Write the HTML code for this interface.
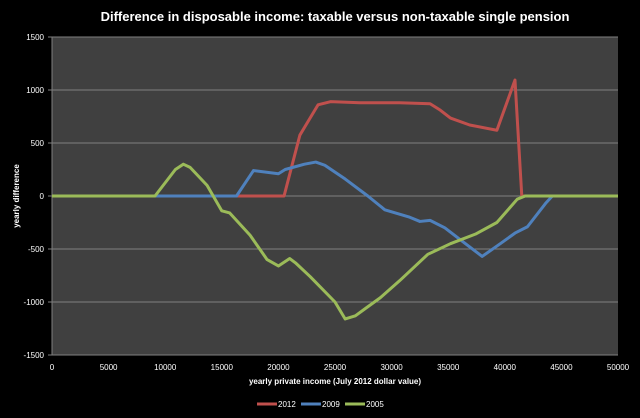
<!DOCTYPE html>
<html><head><meta charset="utf-8"><style>
html,body{margin:0;padding:0;background:#000;}
svg{display:block;font-family:"Liberation Sans",sans-serif;}
</style></head><body>
<svg id="chart" width="640" height="418" xmlns="http://www.w3.org/2000/svg">
<rect width="640" height="418" fill="#000"/>
<text x="335" y="21" fill="#fff" font-size="13" font-weight="bold" text-anchor="middle">Difference in disposable income: taxable versus non-taxable single pension</text>
<rect x="52" y="37" width="566" height="318" fill="#404040"/>
<g id="grid"></g><g id="ticks"></g><g id="series"></g>
<text x="335" y="384" fill="#fff" font-size="8" font-weight="bold" text-anchor="middle">yearly private income (July 2012 dollar value)</text>
<text transform="translate(19,196) rotate(-90)" fill="#fff" font-size="8" font-weight="bold" text-anchor="middle">yearly difference</text>
<g>
<line x1="257" y1="404" x2="277" y2="404" stroke="#c0504d" stroke-width="3"/><text x="278" y="407" fill="#fff" font-size="8">2012</text>
<line x1="301" y1="404" x2="321" y2="404" stroke="#4f81bd" stroke-width="3"/><text x="322" y="407" fill="#fff" font-size="8">2009</text>
<line x1="345" y1="404" x2="365" y2="404" stroke="#9bbb59" stroke-width="3"/><text x="366" y="407" fill="#fff" font-size="8">2005</text>
</g>
</svg>
<script>
const xTicks=[0,5000,10000,15000,20000,25000,30000,35000,40000,45000,50000];
const yTicks=[1500,1000,500,0,-500,-1000,-1500];
const x2012=[0,20500,21900,23500,24600,27200,30700,33400,34300,35200,36900,39300,40900,41500,50000];
const y2012=[0,0,575,860,890,880,880,870,810,735,670,620,1094,0,0];
const x2009=[0,16300,17800,20000,20600,22300,23300,24100,25900,27900,29400,31600,32500,33400,34700,36900,38000,39600,40900,42000,43600,44200,50000];
const y2009=[0,0,240,210,250,300,320,290,160,0,-130,-200,-240,-230,-300,-480,-570,-450,-350,-290,-70,0,0];
const x2005=[0,9100,10900,11600,12200,13700,15000,15700,17500,19000,20000,21000,21500,22800,25000,25900,26800,27700,29000,30700,33200,35200,37400,39300,40200,41100,41800,50000];
const y2005=[0,0,250,300,270,100,-140,-160,-370,-600,-660,-590,-630,-760,-1000,-1160,-1130,-1060,-960,-800,-550,-450,-360,-250,-140,-30,0,0];
const X=v=>52+v/50000*566, Y=v=>196-v/1000*106;
const NS="http://www.w3.org/2000/svg";
function mk(t,a,p){const e=document.createElementNS(NS,t);for(const k in a)e.setAttribute(k,a[k]);p.appendChild(e);return e;}
const grid=document.getElementById('grid'),ticks=document.getElementById('ticks'),ser=document.getElementById('series');
yTicks.forEach(v=>{
 const l=mk('line',{x1:48,x2:618,y1:Y(v),y2:Y(v),stroke:'#7f7f7f','stroke-width':1},grid);
 
 
 const t=mk('text',{x:44,y:Y(v)+3,fill:'#fff','font-size':8,'text-anchor':'end'},ticks);t.textContent=v;
 
 
});
mk('line',{x1:52,x2:52,y1:37,y2:355,stroke:'#7f7f7f'},grid);
xTicks.forEach(v=>{
 const t=mk('text',{x:X(v),y:370,fill:'#fff','font-size':8,'text-anchor':'middle'},ticks);t.textContent=v;
 
 
});
[[x2012,y2012,'#c0504d','line-2012'],[x2009,y2009,'#4f81bd','line-2009'],[x2005,y2005,'#9bbb59','line-2005']].forEach(([xs,ys,c,n])=>{
 const p=mk('polyline',{points:xs.map((x,i)=>X(x)+','+Y(ys[i])).join(' '),fill:'none',stroke:c,'stroke-width':3,'stroke-linejoin':'round'},ser);
 
 
});
</script>
</body></html>
